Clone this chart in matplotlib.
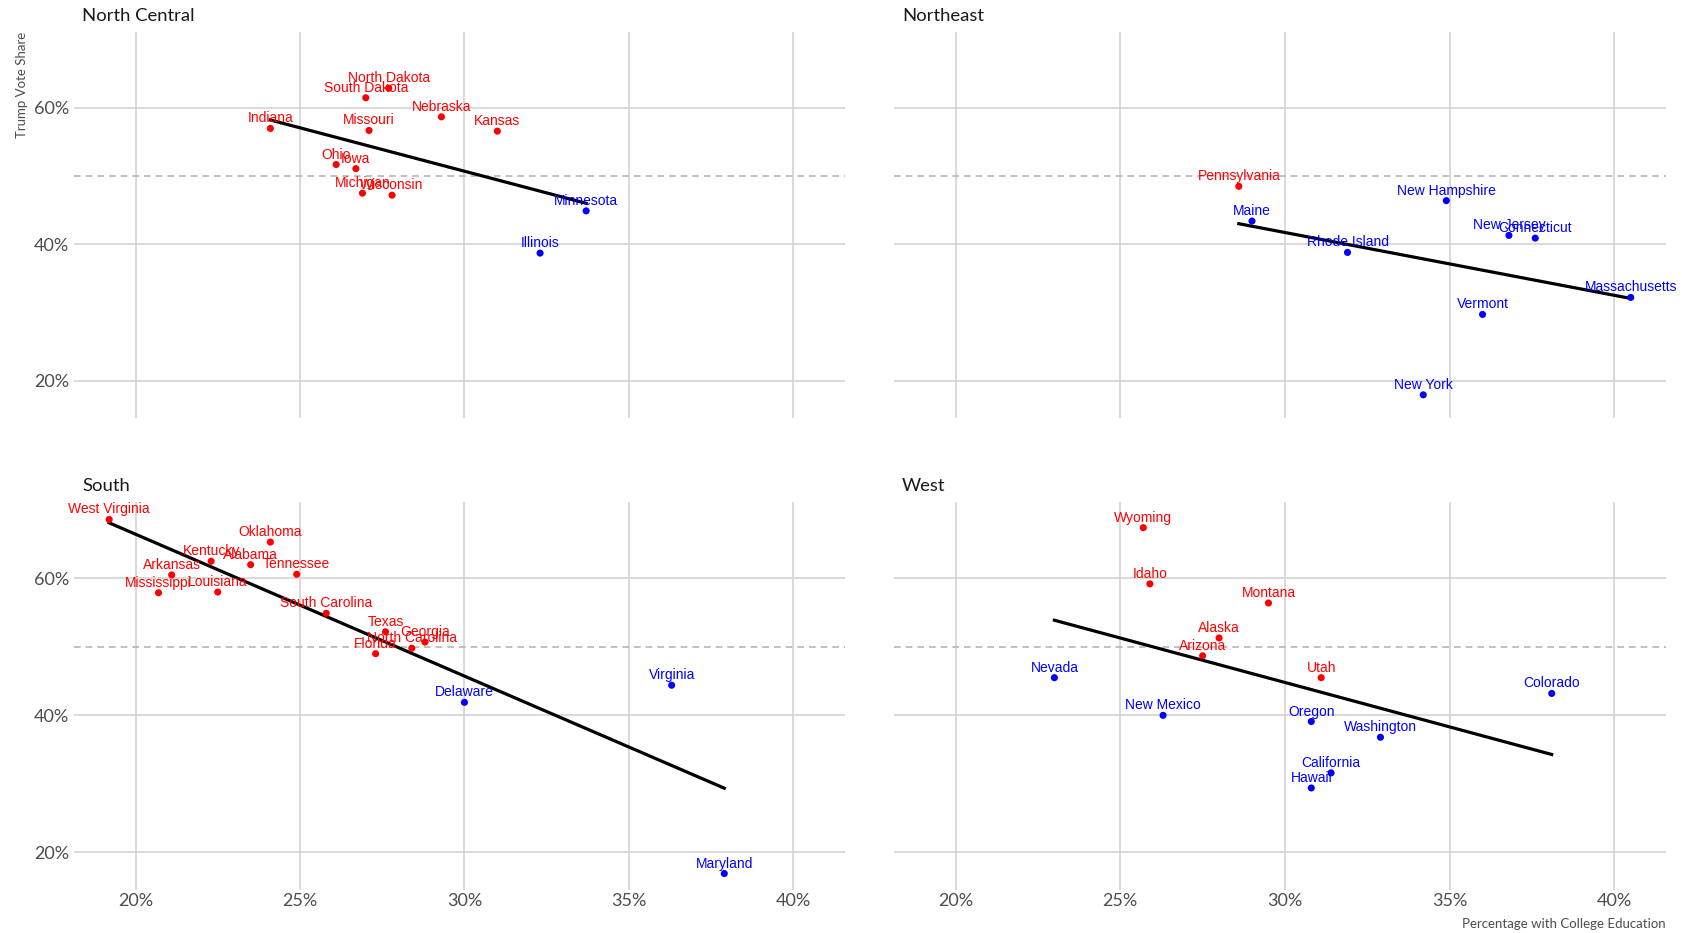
import numpy as np
import matplotlib
matplotlib.use("Agg")
import matplotlib.pyplot as plt

# 2016 vote share vs share of adults with a college degree, by census region
regions = ["North Central", "Northeast", "South", "West"]

nc_states = ["Indiana", "South Dakota", "North Dakota", "Missouri", "Nebraska", "Kansas",
             "Ohio", "Iowa", "Michigan", "Wisconsin", "Minnesota", "Illinois"]
nc_college = [24.1, 27.0, 27.7, 27.1, 29.3, 31.0, 26.1, 26.7, 26.9, 27.8, 33.7, 32.3]
nc_trump = [57.0, 61.5, 62.9, 56.7, 58.7, 56.6, 51.7, 51.1, 47.5, 47.2, 44.9, 38.7]
nc_winner = ["R", "R", "R", "R", "R", "R", "R", "R", "R", "R", "D", "D"]

ne_states = ["Pennsylvania", "Maine", "New Hampshire", "New Jersey", "Connecticut",
             "Rhode Island", "Massachusetts", "Vermont", "New York"]
ne_college = [28.6, 29.0, 34.9, 36.8, 37.6, 31.9, 40.5, 36.0, 34.2]
ne_trump = [48.5, 43.4, 46.4, 41.3, 40.9, 38.8, 32.2, 29.7, 17.9]
ne_winner = ["R", "D", "D", "D", "D", "D", "D", "D", "D"]

s_states = ["West Virginia", "Oklahoma", "Kentucky", "Alabama", "Tennessee", "Arkansas",
            "Mississippi", "Louisiana", "South Carolina", "Texas", "Georgia",
            "North Carolina", "Florida", "Delaware", "Virginia", "Maryland"]
s_college = [19.2, 24.1, 22.3, 23.5, 24.9, 21.1, 20.7, 22.5, 25.8, 27.6, 28.8, 28.4,
             27.3, 30.0, 36.3, 37.9]
s_trump = [68.6, 65.3, 62.5, 62.0, 60.6, 60.5, 57.9, 58.0, 54.9, 52.2, 50.7, 49.8,
           49.0, 41.9, 44.4, 16.9]
s_winner = ["R"] * 13 + ["D", "D", "D"]

w_states = ["Wyoming", "Idaho", "Montana", "Alaska", "Arizona", "Utah", "Nevada",
            "Colorado", "New Mexico", "Oregon", "Washington", "California", "Hawaii"]
w_college = [25.7, 25.9, 29.5, 28.0, 27.5, 31.1, 23.0, 38.1, 26.3, 30.8, 32.9, 31.4, 30.8]
w_trump = [67.4, 59.2, 56.4, 51.3, 48.7, 45.5, 45.5, 43.2, 40.0, 39.1, 36.8, 31.6, 29.4]
w_winner = ["R", "R", "R", "R", "R", "R", "D", "D", "D", "D", "D", "D", "D"]

panels = [
    (nc_states, nc_college, nc_trump, nc_winner),
    (ne_states, ne_college, ne_trump, ne_winner),
    (s_states, s_college, s_trump, s_winner),
    (w_states, w_college, w_trump, w_winner),
]

party_col = {"R": "#ff0000", "D": "#0000ff"}
grid_col = "#d3d3d3"
W, H = 1682, 933

fig = plt.figure(figsize=(W / 100, H / 100), dpi=100)

# panel boxes in pixels: left, top, right, bottom
boxes = [(74, 32, 845, 418), (894, 32, 1666, 418),
         (74, 502, 845, 890), (894, 502, 1666, 890)]

for i, (title, (states, college, trump, winner), box) in enumerate(zip(regions, panels, boxes)):
    l, t, r, b = box
    ax = fig.add_axes([l / W, 1 - b / H, (r - l) / W, (b - t) / H])
    x = np.array(college)
    y = np.array(trump)

    ax.set_xlim(18.13, 41.57)
    ax.set_ylim(14.5, 71.15)
    ax.set_xticks([20, 25, 30, 35, 40])
    ax.set_yticks([20, 40, 60])
    ax.set_xticklabels([f"{v}%" for v in [20, 25, 30, 35, 40]])
    ax.set_yticklabels([f"{v}%" for v in [20, 40, 60]])
    ax.grid(True, color=grid_col, linewidth=1.2)
    ax.set_axisbelow(True)
    for s in ax.spines.values():
        s.set_visible(False)
    ax.tick_params(length=0, labelsize=13, labelcolor="#4d4d4d")
    ax.tick_params(axis="x", pad=2)
    ax.tick_params(axis="y", pad=3.5)
    for lab in ax.get_xticklabels() + ax.get_yticklabels():
        lab.set_family("Lato")
    if i < 2:
        ax.tick_params(labelbottom=False)
    if i % 2 == 1:
        ax.tick_params(labelleft=False)

    # 50% reference line
    ax.axhline(50, color="#b5b5b5", linewidth=1.2, linestyle=(0, (4, 3)), zorder=1)

    # linear fit
    slope, icpt = np.polyfit(x, y, 1)
    xs = np.array([x.min(), x.max()])
    ax.plot(xs, icpt + slope * xs, color="black", linewidth=2.3, zorder=2)

    cols = [party_col[w] for w in winner]
    ax.scatter(x, y, s=26, c=cols, zorder=3, linewidths=0)
    for name, xi, yi, c in zip(states, x, y, cols):
        ax.annotate(name, (xi, yi), xytext=(0, 4.3), textcoords="offset points",
                    ha="center", va="baseline", color=c, fontsize=10,
                    family="Liberation Sans", zorder=4)

    fig.text((l + 8) / W, 1 - (t - 11) / H, title, fontsize=13.3, family="Lato",
             color="#1a1a1a", ha="left", va="baseline")

# axis titles
fig.text(22 / W, 1 - 32 / H, "Trump Vote Share", rotation=90, fontsize=9.5,
         family="Lato", color="#4d4d4d", ha="center", va="top")
fig.text(1666 / W, 1 - 928 / H, "Percentage with College Education", fontsize=9.5,
         family="Lato", color="#4d4d4d", ha="right", va="baseline")

fig.savefig("out.png", dpi=100)
